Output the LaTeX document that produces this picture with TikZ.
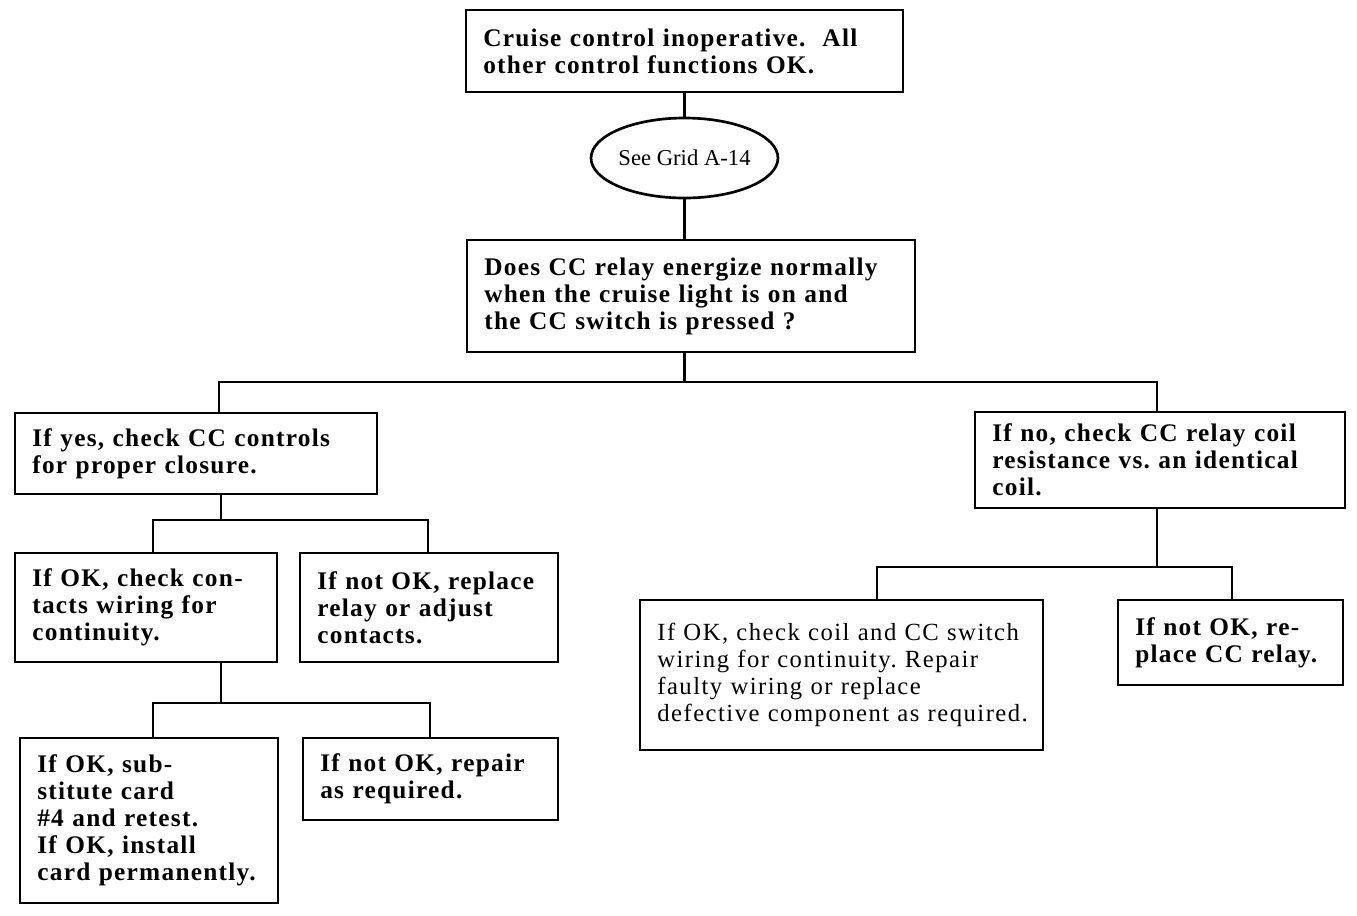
\documentclass[tikz,border=0pt]{standalone}
\usepackage{fontspec}
\setmainfont{Liberation Serif}
\newfontfamily\chartfont[LetterSpace=5,WordSpace=1.6]{Liberation Serif}
\newfontfamily\lightfont[LetterSpace=6,WordSpace=1.3]{Liberation Serif}
\newcommand\boxfont{\chartfont\fontsize{19}{20.25}\selectfont\bfseries\frenchspacing\hyphenpenalty=10000\relax}
\newcommand\coilfont{\lightfont\fontsize{18.5}{20.25}\selectfont\frenchspacing\hyphenpenalty=10000\relax}
\usepackage{tikz}
\usetikzlibrary{shapes,positioning,calc}

\begin{document}
\begin{tikzpicture}[
  x=0.75pt, y=-0.75pt,
  block/.style={rectangle, draw, line width=2pt, align=left, inner xsep=13pt, inner ysep=2pt, font=\boxfont},
  oval/.style={ellipse, draw, line width=2pt, inner sep=0pt, font=\fontsize{17}{20}\selectfont},
  link/.style={line width=2pt}
]
  \useasboundingbox (0,0) rectangle (1357,915);

  \node[block, text width=301.75pt, minimum height=61.5pt] (start) at (684.5,51) {Cruise control inoperative.~~All\\other control functions OK.};
  \node[oval, minimum width=136.5pt, minimum height=60pt] (grid) at (684.5,158) {See Grid A-14};
  \node[block, text width=310pt, minimum height=84pt] (relay) at (691,296) {Does CC relay energize normally\\when the cruise light is on and\\the CC switch is pressed ?};
  \node[block, text width=245.5pt, minimum height=60.75pt] (yes) at (196,453.5) {If yes, check CC controls\\for proper closure.};
  \node[block, text width=251.5pt, minimum height=72pt] (no) at (1160,460) {If no, check CC relay coil\\resistance vs. an identical\\coil.};
  \node[block, text width=170.5pt, minimum height=81.75pt] (contacts) at (146,607.5) {If OK, check con-\\tacts wiring for\\continuity.};
  \node[block, text width=167.5pt, minimum height=81.75pt] (replace) at (429,607.5) {If not OK, replace\\relay or adjust\\contacts.};
  \node[block, text width=167.5pt, minimum height=123.75pt] (card) at (149,820.5) {If OK, sub-\\stitute card\\\#4 and retest.\\If OK, install\\card permanently.};
  \node[block, text width=165.25pt, minimum height=61.5pt] (repair) at (430.5,779) {If not OK, repair\\as required.};
  \node[block, text width=276.25pt, minimum height=112.5pt, font=\coilfont] (coil) at (841.5,675) {If OK, check coil and CC switch\\wiring for continuity. Repair\\faulty wiring or replace\\defective component as required.};
  \node[block, text width=142.75pt, minimum height=63.75pt] (replacecc) at (1230.5,642.5) {If not OK, re-\\place CC relay.};

  \coordinate (bus) at (684.5,382);
  \coordinate (busl) at (219,382);
  \coordinate (busr) at (1157,382);
  \coordinate (forka) at (221,520);
  \coordinate (forkal) at (153,520);
  \coordinate (forkar) at (428,520);
  \coordinate (forkb) at (221,703);
  \coordinate (forkbl) at (153,703);
  \coordinate (forkbr) at (430,703);
  \coordinate (forkc) at (1157,567);
  \coordinate (forkcl) at (877,567);
  \coordinate (forkcr) at (1232,567);

  \draw[link] (start) -- (grid);
  \draw[link] (grid) -- (grid |- relay.north);
  \draw[link] (bus |- relay.south) -- (bus);
  \draw[link] (busl |- yes.north) -- (busl) -- (busr) -- (busr |- no.north);
  \draw[link] (forka |- yes.south) -- (forka);
  \draw[link] (forkal |- contacts.north) -- (forkal) -- (forkar) -- (forkar |- replace.north);
  \draw[link] (forkb |- contacts.south) -- (forkb);
  \draw[link] (forkbl |- card.north) -- (forkbl) -- (forkbr) -- (forkbr |- repair.north);
  \draw[link] (forkc |- no.south) -- (forkc);
  \draw[link] (forkcl |- coil.north) -- (forkcl) -- (forkcr) -- (forkcr |- replacecc.north);
\end{tikzpicture}
\end{document}
